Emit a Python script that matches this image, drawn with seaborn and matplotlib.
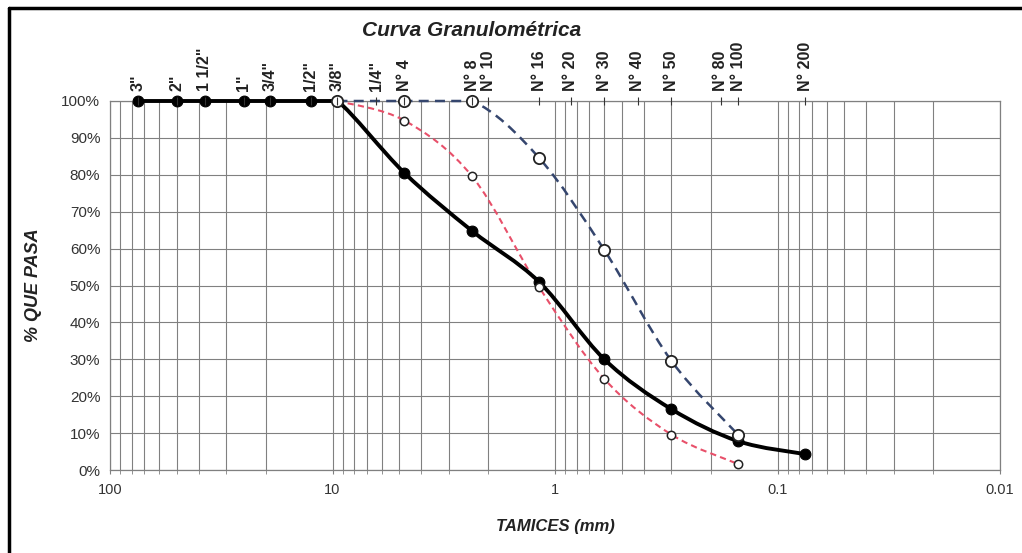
import numpy as np
import seaborn as sns
import matplotlib
matplotlib.use("Agg")
import matplotlib.pyplot as plt
from matplotlib.path import Path
from matplotlib.patches import PathPatch
from matplotlib.lines import Line2D

# ---------------------------------------------------------------------------
# Data
# ---------------------------------------------------------------------------
SIEVE_LABELS = ['3"', '2"', '1 1/2"', '1"', '3/4"', '1/2"', '3/8"', '1/4"',
                "N° 4", "N° 8", "N° 10", "N° 16", "N° 20", "N° 30", "N° 40",
                "N° 50", "N° 80", "N° 100", "N° 200"]
SIEVE_MM = [75, 50, 37.5, 25, 19, 12.5, 9.5, 6.35, 4.75, 2.36, 2.0, 1.18,
            0.85, 0.6, 0.425, 0.3, 0.18, 0.15, 0.075]

# muestra (curva negra)
black_mm = [75, 50, 37.5, 25, 19, 12.5, 9.5, 4.75, 2.36, 1.18, 0.6, 0.3, 0.15, 0.075]
black_pct = [100, 100, 100, 100, 100, 100, 100, 80.5, 64.8, 51.0, 30.0, 16.5, 7.8, 4.3]

# limite (curva roja)
red_mm = [9.5, 4.75, 2.36, 1.18, 0.6, 0.3, 0.15]
red_pct = [100, 94.7, 79.6, 49.6, 24.7, 9.6, 1.6]

# limite (curva azul)
blue_mm = [9.5, 4.75, 2.36, 1.18, 0.6, 0.3, 0.15]
blue_pct = [100, 100, 100, 84.6, 59.6, 29.6, 9.5]

X_TICKS = [100, 10, 1, 0.1, 0.01]
X_TICK_LABELS = ["100", "10", "1", "0.1", "0.01"]
Y_TICKS = list(range(0, 101, 10))


def smooth_path(xs, ys):
    """Excel-like smoothed line: cubic Bezier in (log x, y) space."""
    lx = np.log10(xs)
    y = np.asarray(ys, dtype=float)
    n = len(lx)
    verts = [(xs[0], y[0])]
    codes = [Path.MOVETO]
    for i in range(n - 1):
        i0, i3 = max(i - 1, 0), min(i + 2, n - 1)
        c1x = lx[i] + (lx[i + 1] - lx[i0]) / 6
        c1y = y[i] + (y[i + 1] - y[i0]) / 6
        c2x = lx[i + 1] - (lx[i3] - lx[i]) / 6
        c2y = y[i + 1] - (y[i3] - y[i]) / 6
        lo, hi = min(y[i], y[i + 1]), max(y[i], y[i + 1])
        c1y, c2y = np.clip(c1y, lo, hi), np.clip(c2y, lo, hi)
        verts += [(10 ** c1x, c1y), (10 ** c2x, c2y), (xs[i + 1], y[i + 1])]
        codes += [Path.CURVE4] * 3
    return Path(verts, codes)


sns.set_style("white")
plt.rcParams["font.family"] = ["Liberation Sans", "DejaVu Sans"]

fig = plt.figure(figsize=(10.22, 5.53), dpi=100)
ax = fig.add_axes([110 / 1022, 1 - 470 / 553, 890 / 1022, 369 / 553])

ax.set_xscale("log")
ax.set_xlim(100, 0.01)
ax.set_ylim(0, 100)

grid_c = "#808080"
ax.grid(True, which="both", axis="x", color=grid_c, lw=0.8)
ax.grid(True, which="major", axis="y", color=grid_c, lw=0.8)
for s in ax.spines.values():
    s.set_color(grid_c)
    s.set_linewidth(0.9)

ax.set_xticks(X_TICKS)
ax.set_xticklabels(X_TICK_LABELS)
ax.xaxis.set_minor_formatter(matplotlib.ticker.NullFormatter())
ax.set_yticks(Y_TICKS)
ax.set_yticklabels([f"{v}%" for v in Y_TICKS])
ax.tick_params(axis="both", which="both", direction="out", length=3,
               color=grid_c, labelsize=10.5, labelcolor="#333333", pad=4)
ax.tick_params(axis="y", labelsize=11)
ax.tick_params(axis="x", which="major", pad=6)

# curves
ax.add_patch(PathPatch(smooth_path(red_mm, red_pct), fill=False,
                       ec="#e8506a", lw=1.5, ls=(0, (3, 2)), clip_on=False, zorder=3))
ax.add_patch(PathPatch(smooth_path(blue_mm, blue_pct), fill=False,
                       ec="#35466e", lw=1.8, ls=(0, (4, 2.5)), clip_on=False, zorder=3))
ax.add_patch(PathPatch(smooth_path(black_mm, black_pct), fill=False,
                       ec="black", lw=2.8, clip_on=False, zorder=4))

# markers
sns.scatterplot(x=black_mm, y=black_pct, ax=ax, s=60, color="black",
                edgecolor="black", linewidth=0.8, zorder=5, clip_on=False)
sns.scatterplot(x=red_mm, y=red_pct, ax=ax, s=36, color="white",
                edgecolor="#222222", linewidth=1.1, zorder=6, clip_on=False)
sns.scatterplot(x=blue_mm, y=blue_pct, ax=ax, s=66, color="white",
                edgecolor="#222222", linewidth=1.3, zorder=6, clip_on=False)
ax.set_xlim(100, 0.01)
ax.set_ylim(0, 100)

# top axis with sieve names
ax2 = ax.twiny()
ax2.set_xscale("log")
ax2.set_xlim(100, 0.01)
ax2.set_xticks(SIEVE_MM)
ax2.set_xticklabels(SIEVE_LABELS, rotation=90, fontweight="bold",
                    fontsize=11.5, color="#222222",
                    family=["Liberation Sans Narrow", "Liberation Sans"])
ax2.xaxis.set_minor_locator(matplotlib.ticker.NullLocator())
ax2.tick_params(axis="x", direction="inout", length=6, color="#333333", pad=4)
for s in ax2.spines.values():
    s.set_visible(False)

ax.set_xlabel("TAMICES (mm)", fontsize=12, fontweight="bold", style="italic",
              color="#222222", labelpad=16)
ax.set_ylabel("% QUE PASA", fontsize=13, fontweight="bold", style="italic",
              color="#222222", labelpad=14)
fig.text(472 / 1022, 1 - 31 / 553, "Curva Granulométrica", ha="center",
         va="center", fontsize=15, fontweight="bold", style="italic",
         color="#222222")

# page border (top & left)
fig.add_artist(Line2D([9 / 1022, 1], [1 - 8 / 553] * 2, color="black", lw=2.5,
                      transform=fig.transFigure))
fig.add_artist(Line2D([9 / 1022] * 2, [0, 1 - 8 / 553], color="black", lw=2.5,
                      transform=fig.transFigure))

fig.savefig("out.png", dpi=100)
